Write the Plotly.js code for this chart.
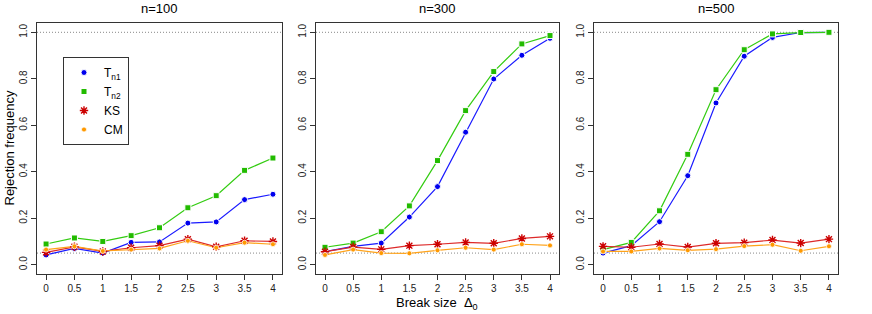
<!DOCTYPE html>
<html><head><meta charset="utf-8">
<script src="https://cdn.plot.ly/plotly-3.0.1.min.js"></script>
<style>html,body{margin:0;padding:0;background:#fff}</style>
</head><body><div id="chart" style="width:872px;height:314px"></div>
<script>
const breakSizes = [0, 0.5, 1, 1.5, 2, 2.5, 3, 3.5, 4];
const panelTitles = ["n=100", "n=300", "n=500"];
const seriesNames = ["T<sub>n1</sub>", "T<sub>n2</sub>", "KS", "CM"];

// n=100
const t1_n100 = [0.042, 0.070, 0.050, 0.096, 0.098, 0.179, 0.184, 0.280, 0.303];
const t2_n100 = [0.089, 0.115, 0.100, 0.125, 0.159, 0.245, 0.297, 0.406, 0.459];
const ks_n100 = [0.053, 0.077, 0.057, 0.073, 0.082, 0.110, 0.077, 0.103, 0.100];
const cm_n100 = [0.065, 0.079, 0.059, 0.065, 0.070, 0.103, 0.073, 0.095, 0.088];
// n=300
const t1_n300 = [0.056, 0.079, 0.093, 0.205, 0.336, 0.570, 0.799, 0.901, 0.974];
const t2_n300 = [0.075, 0.093, 0.142, 0.253, 0.448, 0.663, 0.831, 0.950, 0.986];
const ks_n300 = [0.056, 0.076, 0.066, 0.082, 0.088, 0.096, 0.092, 0.113, 0.122];
const cm_n300 = [0.042, 0.065, 0.050, 0.049, 0.062, 0.073, 0.065, 0.088, 0.083];
// n=500
const t1_n500 = [0.050, 0.082, 0.185, 0.383, 0.696, 0.897, 0.978, 0.999, 1.000];
const t2_n500 = [0.065, 0.096, 0.232, 0.475, 0.753, 0.925, 0.993, 0.999, 1.000];
const ks_n500 = [0.079, 0.075, 0.089, 0.076, 0.092, 0.095, 0.106, 0.093, 0.110];
const cm_n500 = [0.057, 0.057, 0.070, 0.062, 0.067, 0.080, 0.086, 0.060, 0.079];

const refLevels = [0.05, 1.0];
const yTicks = [0, 0.2, 0.4, 0.6, 0.8, 1.0];

const panels = [
  [t1_n100, t2_n100, ks_n100, cm_n100],
  [t1_n300, t2_n300, ks_n300, cm_n300],
  [t1_n500, t2_n500, ks_n500, cm_n500]
];

const lineColors = ["#1a1aff", "#33cc11", "#dd2a2a", "#ffa31a"];
const markerStyles = [
  {symbol: "circle", size: 6, color: "#0000ee", line: {color: "#ffffff", width: 1}},
  {symbol: "square", size: 6, color: "#22bb00", line: {color: "#ffffff", width: 1}},
  {symbol: "asterisk-open", size: 7, color: "#cc0000", line: {color: "#cc0000", width: 1.4}},
  {symbol: "circle", size: 5, color: "#ff9900", line: {color: "#ffffff", width: 0.8}}
];

const xDomains = [[37/872, 282/872], [316/872, 559/872], [594/872, 838/872]];
const yDomain = [1 - 274/314, 1 - 23/314];

const traces = [];
const layout = {
  width: 872, height: 314,
  margin: {l: 0, r: 0, t: 0, b: 0},
  paper_bgcolor: "#fff", plot_bgcolor: "#fff",
  font: {family: "Liberation Sans, Arial, sans-serif", color: "#000"},
  showlegend: true,
  legend: {
    x: 63/872, y: 1 - 57/314, xanchor: "left", yanchor: "top",
    bgcolor: "#fff", bordercolor: "#333", borderwidth: 1,
    font: {size: 12}, tracegroupgap: 0, itemwidth: 30
  },
  shapes: [], annotations: []
};

panels.forEach((series, p) => {
  const xa = p === 0 ? "x" : "x" + (p + 1);
  const ya = p === 0 ? "y" : "y" + (p + 1);
  series.forEach((vals, s) => {
    traces.push({
      x: breakSizes, y: vals, xaxis: xa, yaxis: ya, type: "scatter", mode: "lines",
      line: {color: lineColors[s], width: 1.2}, showlegend: false, hoverinfo: "skip"
    });
  });
  series.forEach((vals, s) => {
    traces.push({
      x: breakSizes, y: vals, xaxis: xa, yaxis: ya, type: "scatter", mode: "markers",
      marker: markerStyles[s], name: seriesNames[s], showlegend: p === 0
    });
  });
  const axKey = p === 0 ? "" : String(p + 1);
  layout["xaxis" + axKey] = {
    domain: xDomains[p], anchor: ya, range: [-0.16, 4.16],
    tickvals: breakSizes, ticktext: breakSizes.map(String),
    ticks: "outside", ticklen: 5, tickcolor: "#333", tickwidth: 1,
    showline: true, mirror: true, linecolor: "#333", linewidth: 1,
    showgrid: false, zeroline: false, tickfont: {size: 10, color: "#222"}
  };
  layout["yaxis" + axKey] = {
    domain: yDomain, anchor: xa, range: [-0.04, 1.04],
    tickvals: yTicks, ticktext: yTicks.map(v => v.toFixed(1)), tickangle: -90,
    ticks: "outside", ticklen: 5, tickcolor: "#333", tickwidth: 1,
    showline: true, mirror: true, linecolor: "#333", linewidth: 1,
    showgrid: false, zeroline: false, tickfont: {size: 10, color: "#222"}
  };
  refLevels.forEach(r => {
    layout.shapes.push({
      type: "line", xref: xa + " domain", yref: ya, x0: 0, x1: 1, y0: r, y1: r,
      line: {color: "#888", width: 1, dash: "1px,2px"}, layer: "below"
    });
  });
  layout.annotations.push({
    text: panelTitles[p], xref: "paper", yref: "paper",
    x: (xDomains[p][0] + xDomains[p][1]) / 2, y: 1 - 9/314,
    xanchor: "center", yanchor: "middle", showarrow: false, font: {size: 13}
  });
});

layout.annotations.push({
  text: "Rejection frequency", xref: "paper", yref: "paper",
  x: 9/872, y: (yDomain[0] + yDomain[1]) / 2, textangle: -90,
  xanchor: "center", yanchor: "middle", showarrow: false, font: {size: 13}
});
layout.annotations.push({
  text: "Break size  Δ<sub>0</sub>", xref: "paper", yref: "paper",
  x: (xDomains[1][0] + xDomains[1][1]) / 2, y: 1 - 303/314,
  xanchor: "center", yanchor: "middle", showarrow: false, font: {size: 13}
});

Plotly.newPlot("chart", traces, layout, {staticPlot: true, displayModeBar: false});
</script></body></html>
